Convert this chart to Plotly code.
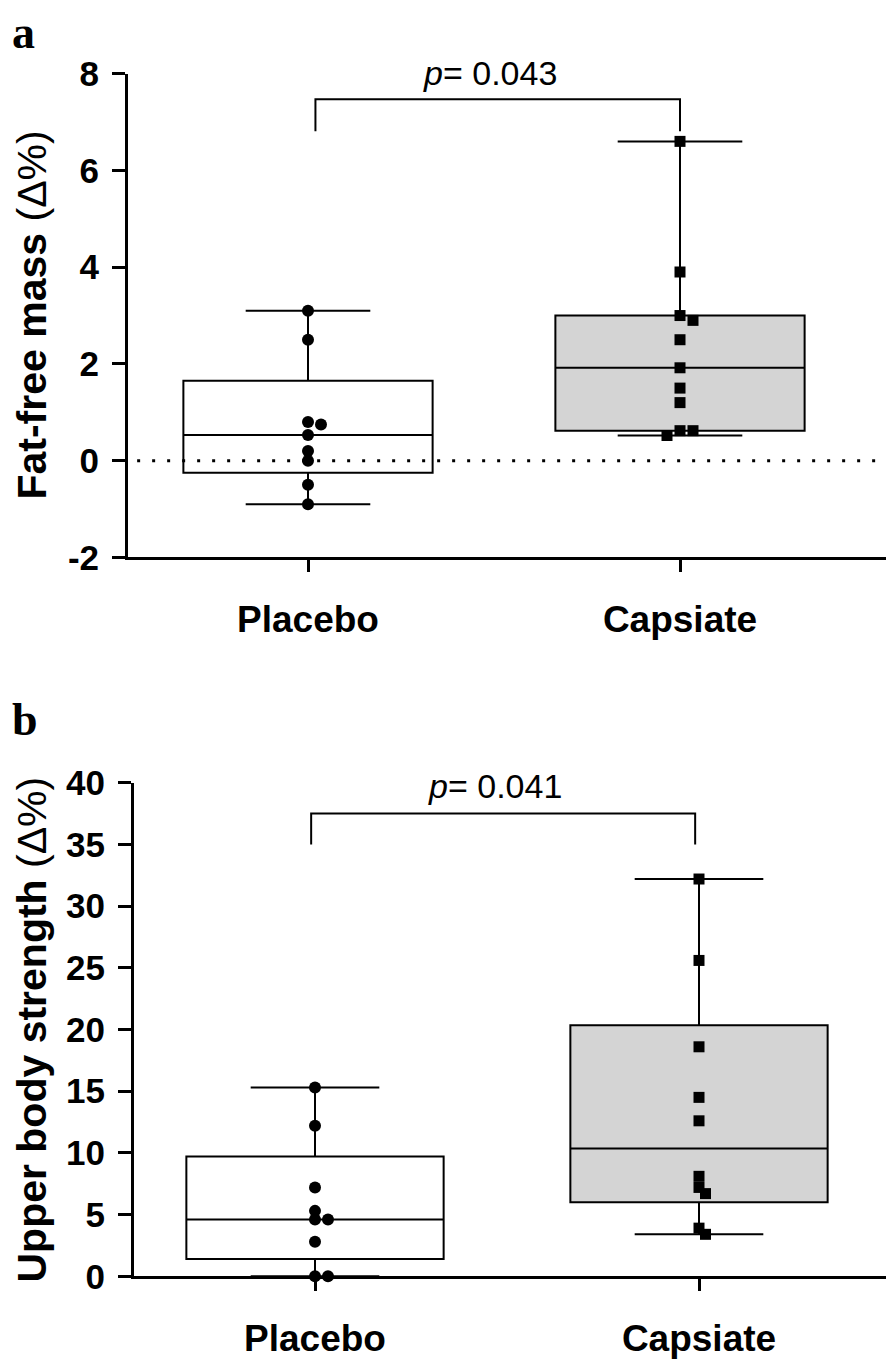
import numpy as np
import plotly.graph_objects as go

# ---------------- data ----------------
groups = ["Placebo", "Capsiate"]
ffm_placebo = [3.1, 2.5, 0.8, 0.75, 0.53, 0.2, 0.0, -0.5, -0.9]
ffm_capsiate = [6.6, 3.9, 3.0, 2.9, 2.5, 1.92, 1.5, 1.2, 0.62, 0.62, 0.52]
ubs_placebo = [15.3, 12.2, 7.2, 5.3, 4.6, 4.6, 2.8, 0.0, 0.0]
ubs_capsiate = [32.2, 25.6, 18.6, 14.5, 12.6, 8.1, 7.2, 6.7, 3.9, 3.4]
p_labels = ["0.043", "0.041"]
ffm_ticks = [-2, 0, 2, 4, 6, 8]
ubs_ticks = [0, 5, 10, 15, 20, 25, 30, 35, 40]

# page has an 8px body margin; figure placed at (8, 8)
OFF = 8
W, H = 894 - OFF, 1372 - OFF
FONT = "Liberation Sans"

# panel geometry (page pixels)
panels = [
    dict(data=[ffm_placebo, ffm_capsiate], ticks=ffm_ticks, yr=[-2, 8],
         ypx=(55, 553), xpx=(128, 890), cat_px=(308, 680),
         title="<b>Fat-free mass</b> (Δ%)", letter="a", letter_xy=(10, 13),
         bracket=(0.02, 1.0, 7.47, 6.81), zero_line=True),
    dict(data=[ubs_placebo, ubs_capsiate], ticks=ubs_ticks, yr=[0, 40],
         ypx=(785, 1293), xpx=(134, 890), cat_px=(315, 699),
         title="<b>Upper body strength</b> (Δ%)", letter="b",
         letter_xy=(10, 720),
         bracket=(-0.01, 0.99, 37.5, 35.0), zero_line=False),
]


def beeswarm(vals, px_per_y, px_per_x, step=6.5, dmin=8.5):
    order = np.argsort(vals)[::-1]
    placed = []
    offs = np.zeros(len(vals))
    cands = [0.0]
    for j in range(1, 20):
        cands += [j * step, -j * step]
    for i in order:
        y = vals[i] * px_per_y
        for c in cands:
            if all((c - px) ** 2 + (y - py) ** 2 >= dmin ** 2 for px, py in placed):
                break
        placed.append((c, y))
        offs[i] = c / px_per_x
    return offs


fig = go.Figure()
fills = ["white", "#d4d4d4"]
symbols = ["circle", "square"]
msizes = [12, 11]

for pi, P in enumerate(panels):
    sfx = "" if pi == 0 else "2"
    xa, ya = "x" + sfx, "y" + sfx
    top_px, bot_px = [v - OFF for v in P["ypx"]]
    left_px, right_px = [v - OFF for v in P["xpx"]]
    c0, c1 = [v - OFF for v in P["cat_px"]]
    unit = c1 - c0
    x0 = -(c0 - left_px) / unit
    x1 = (right_px - c0) / unit
    yspan = P["yr"][1] - P["yr"][0]
    px_per_y = (bot_px - top_px) / yspan

    for gi, vals in enumerate(P["data"]):
        v = np.array(vals, dtype=float)
        q1, med, q3 = np.percentile(v, [25, 50, 75], method="weibull")
        fig.add_trace(go.Box(
            x=[gi], q1=[q1], median=[med], q3=[q3],
            lowerfence=[v.min()], upperfence=[v.max()],
            width=0.67, whiskerwidth=0.5, fillcolor=fills[gi],
            line=dict(color="black", width=2), boxpoints=False,
            hoverinfo="skip", showlegend=False, xaxis=xa, yaxis=ya))
        offs = beeswarm(v, px_per_y, unit)
        fig.add_trace(go.Scatter(
            x=gi + offs, y=v, mode="markers", cliponaxis=False,
            marker=dict(symbol=symbols[gi], size=msizes[gi], color="black",
                        line=dict(width=0)),
            showlegend=False, hoverinfo="skip", xaxis=xa, yaxis=ya))

    dom_x = [left_px / W, right_px / W]
    dom_y = [1 - bot_px / H, 1 - top_px / H]
    fig.update_layout(**{
        "xaxis" + sfx: dict(domain=dom_x, range=[x0, x1], anchor=ya,
                            tickvals=[0, 1], ticktext=groups,
                            showline=True, linecolor="black", linewidth=3,
                            ticks="outside", ticklen=12, tickwidth=3,
                            tickcolor="black", showgrid=False, zeroline=False,
                            ticklabelstandoff=15,
                            tickfont=dict(family=FONT, size=37, color="black",
                                          weight="bold")),
        "yaxis" + sfx: dict(domain=dom_y, range=P["yr"], anchor=xa,
                            tickvals=P["ticks"],
                            ticktext=[str(t) for t in P["ticks"]],
                            showline=True,
                            linecolor="black", linewidth=3, ticks="outside",
                            ticklen=13, tickwidth=3, tickcolor="black",
                            showgrid=False, zeroline=False,
                            ticklabelstandoff=6,
                            tickfont=dict(family=FONT, size=35, color="black",
                                          weight="bold")),
    })

    # y-axis title
    fig.add_annotation(text=P["title"], xref="paper", yref="paper",
                       x=(32 - OFF) / W, y=(dom_y[0] + dom_y[1]) / 2,
                       textangle=-90, showarrow=False, xanchor="center",
                       yanchor="middle",
                       font=dict(family=FONT, size=41, color="black"))
    # panel letter
    lx, ly = P["letter_xy"]
    fig.add_annotation(text=P["letter"], xref="paper", yref="paper",
                       x=(lx - OFF) / W, y=1 - (ly - OFF) / H, showarrow=False,
                       xanchor="left", yanchor="middle",
                       font=dict(family="Liberation Serif", size=46,
                                 color="black", weight="bold"))
    # significance bracket
    bx0, bx1, btop, bleg = P["bracket"]
    fig.add_trace(go.Scatter(x=[bx0, bx0, bx1, bx1], y=[bleg, btop, btop, bleg],
                             mode="lines", line=dict(color="black", width=2),
                             showlegend=False, hoverinfo="skip",
                             xaxis=xa, yaxis=ya, cliponaxis=False))
    fig.add_annotation(text="<i>p</i>= " + p_labels[pi], xref=xa,
                       yref=ya + " domain",
                       x=(bx0 + bx1) / 2 - 0.02,
                       y=(btop - P["yr"][0]) / yspan + 0.055,
                       showarrow=False, xanchor="center", yanchor="middle",
                       font=dict(family=FONT, size=34, color="black"))
    if P["zero_line"]:
        fig.add_shape(type="line", xref=xa + " domain", yref=ya,
                      x0=0.012, x1=1.0, y0=0, y1=0,
                      line=dict(color="black", width=3, dash="3px,12px"))

fig.update_layout(width=W, height=H, margin=dict(l=0, r=0, t=0, b=0),
                  paper_bgcolor="white", plot_bgcolor="white")
fig.write_html("out.html")
